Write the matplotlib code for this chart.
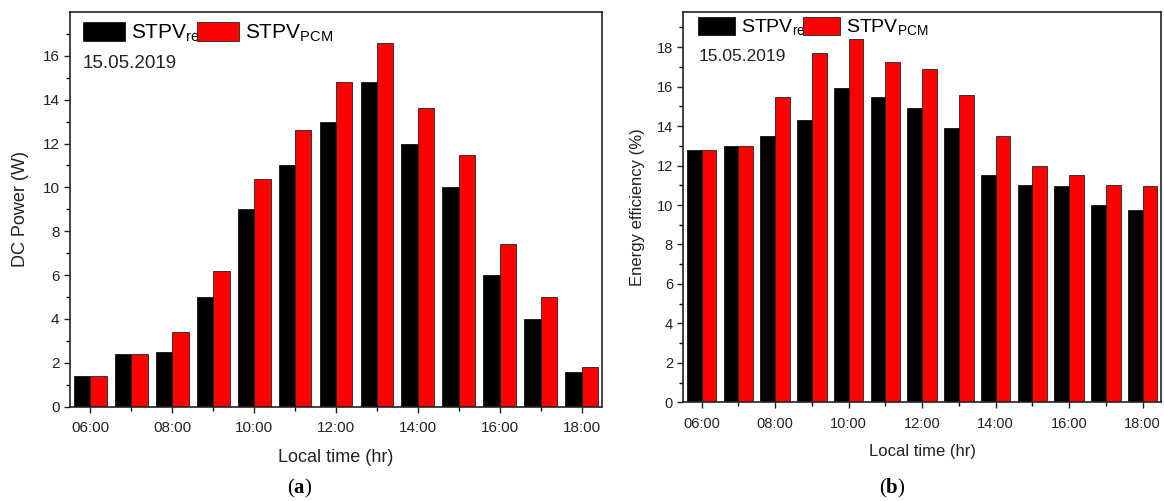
import matplotlib
matplotlib.use("Agg")
import matplotlib.pyplot as plt
import numpy as np

plt.rcParams['font.family'] = ['Liberation Sans', 'DejaVu Sans']
plt.rcParams['mathtext.fontset'] = 'custom'
plt.rcParams['mathtext.bf'] = 'Liberation Serif:bold'
plt.rcParams['mathtext.rm'] = 'Liberation Sans'

# local time, hours
hours = [6, 7, 8, 9, 10, 11, 12, 13, 14, 15, 16, 17, 18]
tick_hours = [6, 8, 10, 12, 14, 16, 18]
tick_labels = ["06:00", "08:00", "10:00", "12:00", "14:00", "16:00", "18:00"]

# (a) DC power (W)
power_ref = [1.4, 2.4, 2.5, 5.0, 9.0, 11.0, 13.0, 14.8, 12.0, 10.0, 6.0, 4.0, 1.6]
power_pcm = [1.4, 2.4, 3.4, 6.2, 10.4, 12.6, 14.8, 16.6, 13.6, 11.5, 7.4, 5.0, 1.8]

# (b) energy efficiency (%)
eff_ref = [12.8, 13.0, 13.5, 14.3, 15.95, 15.5, 14.9, 13.9, 11.5, 11.0, 10.95, 10.0, 9.75]
eff_pcm = [12.8, 13.0, 15.5, 17.7, 18.4, 17.25, 16.9, 15.6, 13.5, 12.0, 11.5, 11.0, 10.95]

W, H = 1164, 501
fig = plt.figure(figsize=(W / 100, H / 100), dpi=100)
ax1 = fig.add_axes([70 / W, (H - 406.7) / H, 532 / W, 394.7 / H])
ax2 = fig.add_axes([683.3 / W, (H - 402.3) / H, 477.7 / W, 390.6 / H])

x = np.array(hours)
bw = 0.4


def draw(ax, ref, pcm, ylab, ymax, yticks, tsize, lsize, legsize, datesize,
         leg_xy, date_xy, hl, hh):
    ax.bar(x - bw / 2, ref, width=bw, color='black', edgecolor='#111111',
           linewidth=0.6, label=r'STPV$_{\mathregular{ref}}$')
    ax.bar(x + bw / 2, pcm, width=bw, color='#ff0000', edgecolor='#222222',
           linewidth=0.6, label=r'STPV$_{\mathregular{PCM}}$')
    ax.set_xlim(5.5, 18.5)
    ax.set_ylim(0, ymax)
    ax.set_xticks(tick_hours)
    ax.set_xticklabels(tick_labels)
    ax.set_xticks([7, 9, 11, 13, 15, 17], minor=True)
    ax.set_yticks(yticks)
    ax.set_yticks(np.arange(1, ymax, 2), minor=True)
    ax.tick_params(axis='both', which='major', direction='out', length=4.5,
                   width=1.0, labelsize=tsize, pad=3, colors='#222222')
    ax.tick_params(axis='x', which='major', pad=6)
    ax.tick_params(axis='both', which='minor', direction='out', length=2.8,
                   width=1.0)
    for s in ax.spines.values():
        s.set_linewidth(1.2)
        s.set_color('#222222')
    ax.set_xlabel("Local time (hr)", fontsize=lsize, color='#222222')
    ax.set_ylabel(ylab, fontsize=lsize, color='#222222')
    ax.legend(loc='center left', bbox_to_anchor=leg_xy, ncol=2, frameon=False,
              fontsize=legsize, handlelength=hl, handleheight=hh,
              handletextpad=0.3, columnspacing=-0.35, borderpad=0,
              borderaxespad=0)
    ax.text(date_xy[0], date_xy[1], "15.05.2019", transform=ax.transAxes,
            fontsize=datesize, va='center', ha='left', color='#222222')


draw(ax1, power_ref, power_pcm, "DC Power (W)", 18, np.arange(0, 17, 2),
     11, 13, 15, 13.5, (0.0244, 0.947), (0.0244, 0.870), 2.0, 1.0)
draw(ax2, eff_ref, eff_pcm, "Energy efficiency (%)", 19.8, np.arange(0, 19, 2),
     10.5, 12, 14, 12.5, (0.031, 0.960), (0.033, 0.885), 1.9, 1.08)

ax1.yaxis.set_label_coords(-0.077, 0.5)
ax2.yaxis.set_label_coords(-0.080, 0.5)
ax1.xaxis.set_label_coords(0.5, -0.107)
ax2.xaxis.set_label_coords(0.5, -0.107)

fig.text(300 / W, 1 - 488 / H, r'($\mathbf{a}$)', ha='center', va='center',
         fontsize=15, family='Liberation Serif')
fig.text(892 / W, 1 - 488 / H, r'($\mathbf{b}$)', ha='center', va='center',
         fontsize=15, family='Liberation Serif')

fig.savefig("out.png", dpi=100)
